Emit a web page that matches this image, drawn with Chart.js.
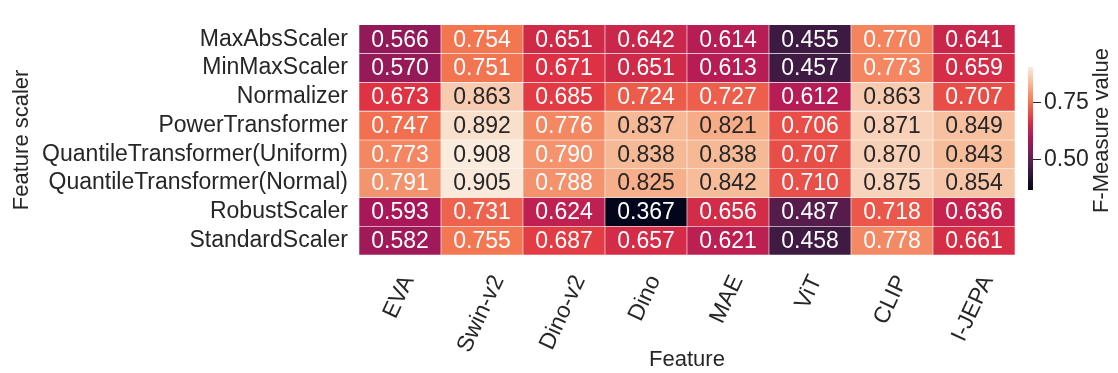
<!DOCTYPE html>
<html>
<head>
<meta charset="utf-8">
<script src="https://cdn.jsdelivr.net/npm/chart.js@4.4.1/dist/chart.umd.min.js"></script>
<style>
  html, body { margin: 0; padding: 0; background: #ffffff; }
  #wrap { position: relative; width: 1118px; height: 373px; }
  #wrap canvas { position: absolute; left: 0; top: 0; }
</style>
</head>
<body>
<div id="wrap">
  <canvas id="heat" width="1118" height="373"></canvas>
  <canvas id="cbar" width="1118" height="373"></canvas>
</div>
<script>
// Feature extractors (columns) and feature scalers (rows)
const features = ['EVA', 'Swin-v2', 'Dino-v2', 'Dino', 'MAE', 'ViT', 'CLIP', 'I-JEPA'];
const scalers = [
  'MaxAbsScaler',
  'MinMaxScaler',
  'Normalizer',
  'PowerTransformer',
  'QuantileTransformer(Uniform)',
  'QuantileTransformer(Normal)',
  'RobustScaler',
  'StandardScaler'
];

// F-Measure per scaler, one value per feature
const maxAbsScaler       = [0.566, 0.754, 0.651, 0.642, 0.614, 0.455, 0.770, 0.641];
const minMaxScaler       = [0.570, 0.751, 0.671, 0.651, 0.613, 0.457, 0.773, 0.659];
const normalizer         = [0.673, 0.863, 0.685, 0.724, 0.727, 0.612, 0.863, 0.707];
const powerTransformer   = [0.747, 0.892, 0.776, 0.837, 0.821, 0.706, 0.871, 0.849];
const quantileUniform    = [0.773, 0.908, 0.790, 0.838, 0.838, 0.707, 0.870, 0.843];
const quantileNormal     = [0.791, 0.905, 0.788, 0.825, 0.842, 0.710, 0.875, 0.854];
const robustScaler       = [0.593, 0.731, 0.624, 0.367, 0.656, 0.487, 0.718, 0.636];
const standardScaler     = [0.582, 0.755, 0.687, 0.657, 0.621, 0.458, 0.778, 0.661];

const colorbarTicks = [0.50, 0.75];

const scores = [maxAbsScaler, minMaxScaler, normalizer, powerTransformer,
                quantileUniform, quantileNormal, robustScaler, standardScaler];

const vmin = Math.min(...scores.flat());
const vmax = Math.max(...scores.flat());

// "rocket" colormap control points
const rocketStops = [
  [0 / 7, '#03051a'], [1 / 7, '#35193e'], [2 / 7, '#701f57'], [3 / 7, '#ad1759'],
  [4 / 7, '#e13342'], [5 / 7, '#f37651'], [6 / 7, '#f6b48f'], [7 / 7, '#faebdd']
];
const hexRgb = h => [1, 3, 5].map(i => parseInt(h.slice(i, i + 2), 16));

function rocket(t) {
  t = Math.max(0, Math.min(1, t));
  for (let i = 1; i < rocketStops.length; i++) {
    const [t1, c1] = rocketStops[i];
    if (t <= t1) {
      const [t0, c0] = rocketStops[i - 1];
      const f = (t - t0) / (t1 - t0);
      const a = hexRgb(c0), b = hexRgb(c1);
      return a.map((v, k) => Math.round(v + (b[k] - v) * f));
    }
  }
  return hexRgb(rocketStops[rocketStops.length - 1][1]);
}
const rgbStr = c => `rgb(${c[0]},${c[1]},${c[2]})`;
const cellColor = v => rgbStr(rocket((v - vmin) / (vmax - vmin)));

function luminance(c) {
  const lin = c.map(x => {
    x /= 255;
    return x <= 0.03928 ? x / 12.92 : Math.pow((x + 0.055) / 1.055, 2.4);
  });
  return 0.2126 * lin[0] + 0.7152 * lin[1] + 0.0722 * lin[2];
}
const textColor = v => luminance(rocket((v - vmin) / (vmax - vmin))) > 0.43 ? '#262626' : '#ffffff';

const FONT = '"Liberation Sans", Arial, Helvetica, sans-serif';
const INK = '#262626';
Chart.defaults.font.family = FONT;
Chart.defaults.color = INK;

// Writes each score in the middle of its cell
const cellLabels = {
  id: 'cellLabels',
  afterDatasetsDraw(chart) {
    const ctx = chart.ctx;
    ctx.save();
    ctx.font = `23px ${FONT}`;
    ctx.textAlign = 'center';
    ctx.textBaseline = 'middle';
    chart.data.datasets.forEach((ds, r) => {
      chart.getDatasetMeta(r).data.forEach((bar, c) => {
        const v = scores[r][c];
        ctx.fillStyle = textColor(v);
        ctx.fillText(v.toFixed(3), bar.x, (bar.y + bar.base) / 2 + 1);
      });
    });
    ctx.restore();
  }
};

// Rotated category labels are centred on their column instead of ending at it
const centerRotatedTicks = {
  id: 'centerRotatedTicks',
  beforeDraw(chart) {
    const s = chart.scales.x;
    const rot = s.labelRotation * Math.PI / 180;
    const items = s.getLabelItems(chart.chartArea);
    const ctx = chart.ctx;
    ctx.save();
    items.forEach(it => {
      if (it._centred) return;
      ctx.font = it.font.string;
      const w = ctx.measureText(it.label).width;
      it.options.translation[0] += w * Math.cos(rot) / 2 - 1;
      it._centred = true;
    });
    ctx.restore();
  }
};

new Chart(document.getElementById('heat'), {
  type: 'bar',
  data: {
    labels: features,
    datasets: scalers.map((name, r) => ({
      label: name,
      data: features.map(() => [r, r + 1]),
      backgroundColor: scores[r].map(cellColor),
      borderColor: 'rgba(255,255,255,0.85)',
      borderWidth: 0.6,
      borderSkipped: false,
      grouped: false,
      barPercentage: 1,
      categoryPercentage: 1
    }))
  },
  options: {
    responsive: false,
    animation: false,
    layout: { padding: { left: 0, top: 7, right: 103, bottom: 0 } },
    plugins: { legend: { display: false }, tooltip: { enabled: false } },
    scales: {
      x: {
        type: 'category',
        grid: { display: false, drawTicks: false },
        border: { display: false },
        ticks: { font: { size: 23 }, color: INK, minRotation: 65, maxRotation: 65, padding: 16, autoSkip: false },
        title: { display: true, text: 'Feature', font: { size: 22 }, color: INK, padding: { top: 0, bottom: 0 } },
        afterFit: s => { s.height = 118; }
      },
      y: {
        type: 'linear',
        min: 0,
        max: scalers.length,
        reverse: true,
        grid: { display: false, drawTicks: false },
        border: { display: false },
        afterBuildTicks: s => { s.ticks = scalers.map((_, i) => ({ value: i + 0.5 })); },
        ticks: { autoSkip: false, font: { size: 23 }, color: INK, padding: 11, callback: v => scalers[Math.floor(v)] },
        title: { display: true, text: 'Feature scaler', font: { size: 22 }, color: INK, padding: { top: 9, bottom: 0 } },
        afterFit: s => { s.width = 359; }
      }
    }
  },
  plugins: [cellLabels, centerRotatedTicks]
});

// Colour bar: one floating bar spanning the value range, filled with the colormap
function colorbarFill(context) {
  const chart = context.chart;
  if (!chart.chartArea) return '#000';
  const ys = chart.scales.y;
  const g = chart.ctx.createLinearGradient(0, ys.getPixelForValue(vmin), 0, ys.getPixelForValue(vmax));
  for (let i = 0; i <= 32; i++) g.addColorStop(i / 32, rgbStr(rocket(i / 32)));
  return g;
}

const colorbarTitle = {
  id: 'colorbarTitle',
  afterDraw(chart) {
    const { ctx, chartArea } = chart;
    ctx.save();
    ctx.font = `22px ${FONT}`;
    ctx.fillStyle = INK;
    ctx.textAlign = 'center';
    ctx.textBaseline = 'middle';
    ctx.translate(1102, (chartArea.top + chartArea.bottom) / 2 + 2);
    ctx.rotate(-Math.PI / 2);
    ctx.fillText('F-Measure value', 0, 0);
    ctx.restore();
  }
};

new Chart(document.getElementById('cbar'), {
  type: 'bar',
  data: {
    labels: [''],
    datasets: [{
      data: [[vmin, vmax]],
      backgroundColor: colorbarFill,
      borderWidth: 0,
      barPercentage: 1,
      categoryPercentage: 1
    }]
  },
  options: {
    responsive: false,
    animation: false,
    layout: { padding: { left: 1028, top: 67, right: 0, bottom: 183 } },
    plugins: { legend: { display: false }, tooltip: { enabled: false } },
    scales: {
      x: { display: false },
      y: {
        position: 'right',
        min: vmin,
        max: vmax,
        grid: { drawOnChartArea: false, drawTicks: true, tickLength: 8, color: INK, lineWidth: 1 },
        border: { display: false },
        afterBuildTicks: s => { s.ticks = colorbarTicks.map(v => ({ value: v })); },
        ticks: { font: { size: 23 }, color: INK, padding: 3, callback: v => v.toFixed(2) },
        afterFit: s => { s.width = 85; }
      }
    }
  },
  plugins: [colorbarTitle]
});
</script>
</body>
</html>
